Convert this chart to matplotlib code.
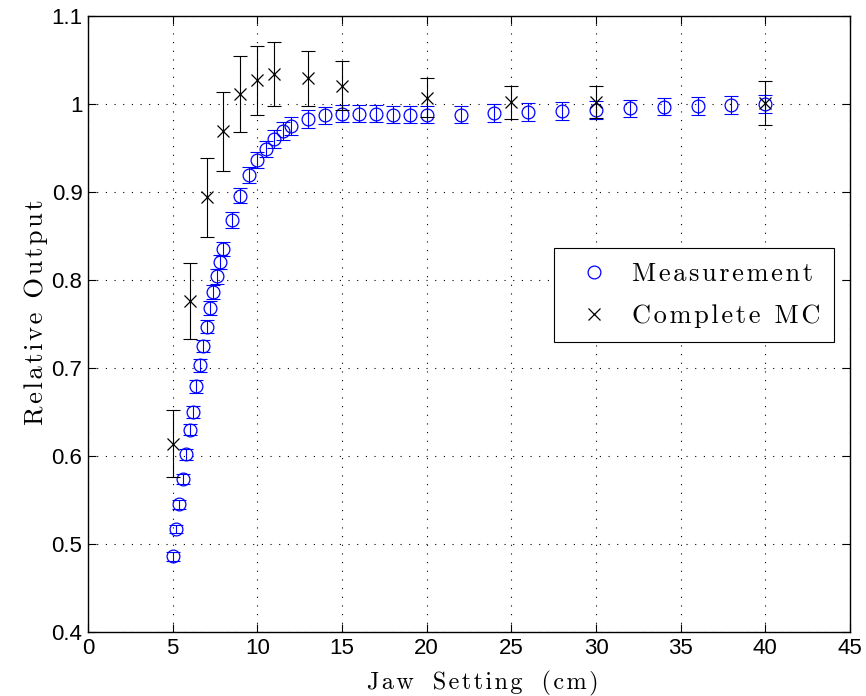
import matplotlib
matplotlib.use('Agg')
import matplotlib.pyplot as plt
from matplotlib.font_manager import FontProperties

# Relative output vs jaw setting: measurement and complete Monte Carlo
jaw_meas = [5.0, 5.2, 5.4, 5.6, 5.8, 6.0, 6.2, 6.4, 6.6, 6.8, 7.0, 7.2, 7.4, 7.6, 7.8, 8.0,
            8.5, 9.0, 9.5, 10.0, 10.5, 11.0, 11.5, 12.0, 13, 14, 15, 16, 17, 18, 19, 20,
            22, 24, 26, 28, 30, 32, 34, 36, 38, 40]
out_meas = [0.486, 0.517, 0.545, 0.574, 0.602, 0.630, 0.650, 0.679, 0.703, 0.725, 0.747,
            0.768, 0.786, 0.804, 0.820, 0.835, 0.868, 0.896, 0.919, 0.936, 0.949, 0.960,
            0.969, 0.975, 0.983, 0.987, 0.989, 0.989, 0.989, 0.988, 0.988, 0.988, 0.988,
            0.990, 0.991, 0.992, 0.993, 0.995, 0.997, 0.998, 0.999, 1.000]
err_meas = [0.005, 0.005, 0.005, 0.006, 0.006, 0.006, 0.007, 0.007, 0.007, 0.007, 0.007,
            0.008, 0.008, 0.008, 0.008, 0.008, 0.009, 0.009, 0.009, 0.009, 0.009, 0.010,
            0.010, 0.010, 0.010, 0.010, 0.010, 0.010, 0.010, 0.010, 0.010, 0.010, 0.010,
            0.010, 0.010, 0.010, 0.010, 0.010, 0.010, 0.010, 0.010, 0.010]

jaw_mc = [5, 6, 7, 8, 9, 10, 11, 13, 15, 20, 25, 30, 40]
out_mc = [0.614, 0.776, 0.894, 0.969, 1.011, 1.027, 1.034, 1.029, 1.021, 1.007, 1.002, 1.002, 1.001]
err_mc = [0.038, 0.043, 0.045, 0.045, 0.043, 0.039, 0.036, 0.031, 0.028, 0.022, 0.0185, 0.018, 0.025]

xticks = [0, 5, 10, 15, 20, 25, 30, 35, 40, 45]
yticks = [0.4, 0.5, 0.6, 0.7, 0.8, 0.9, 1.0, 1.1]
ytick_labels = ['0.4', '0.5', '0.6', '0.7', '0.8', '0.9', '1', '1.1']

serif = ['cmr10', 'DejaVu Serif']
sans = ['Liberation Sans', 'DejaVu Sans']


def spaced(s, gap='\u200a', word=' '):
    # letter-spaced serif text, LaTeX style
    return gap.join(word if ch == ' ' else ch for ch in s)


fig = plt.figure(figsize=(8.66, 6.96), dpi=100)
ax = fig.add_axes([88/866, 64/696, 762/866, 616/696])

ax.errorbar(jaw_meas, out_meas, yerr=err_meas, fmt='none', ecolor='blue',
            elinewidth=0.8, capsize=4.7, capthick=0.8, zorder=3)
ax.plot(jaw_meas, out_meas, 'o', mfc='none', mec='blue', mew=0.9, ms=9.2,
        label=spaced('Measurement'), zorder=4)
ax.errorbar(jaw_mc, out_mc, yerr=err_mc, fmt='none', ecolor='black',
            elinewidth=0.8, capsize=4.7, capthick=0.8, zorder=5)
ax.plot(jaw_mc, out_mc, 'x', color='black', mew=0.9, ms=8,
        label=spaced('Complete MC'), zorder=6)

ax.set_xlim(0, 45)
ax.set_ylim(0.4, 1.1)
ax.set_xticks(xticks)
ax.set_yticks(yticks)
ax.set_yticklabels(ytick_labels)
for lab in ax.get_xticklabels() + ax.get_yticklabels():
    lab.set_family(sans)
    lab.set_fontsize(16)
ax.tick_params(direction='in', length=6, width=0.8, top=True, right=True, pad=4)
ax.grid(True, color='black', linestyle=(0, (1, 6.8)), linewidth=0.8)
for sp in ax.spines.values():
    sp.set_linewidth(1.0)

ax.set_xlabel(spaced('Jaw Setting (cm)', word=' \u2005'), family=serif,
              fontsize=17.5, va='baseline')
ax.set_ylabel(spaced('Relative Output'), family=serif, fontsize=19)
ax.xaxis.set_label_coords(0.518, -0.0925)
ax.yaxis.set_label_coords(-0.053, 0.519)

leg = ax.legend(loc='center', bbox_to_anchor=(0.7953, 0.547), borderaxespad=0,
                prop=FontProperties(family=serif, size=19),
                borderpad=0.53, labelspacing=0.68, handlelength=1.97,
                handletextpad=0.45, fancybox=False, framealpha=1, edgecolor='black')
leg.get_frame().set_linewidth(0.8)

fig.savefig('out.png', dpi=100)
